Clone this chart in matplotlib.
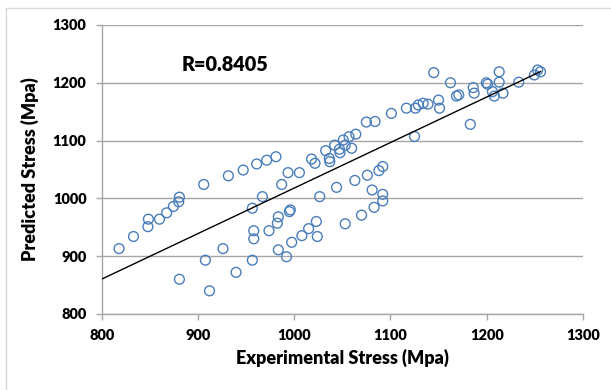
import numpy as np
import matplotlib
matplotlib.use('Agg')
import matplotlib.pyplot as plt
from matplotlib.lines import Line2D

plt.rcParams['font.family'] = ['Lato', 'DejaVu Sans']
plt.rcParams['font.weight'] = 'heavy'
plt.rcParams['axes.labelweight'] = 'heavy'

# experimental vs predicted stress (MPa)
exp_stress = [818, 833, 848, 848.5, 860, 867.5, 874.5, 880, 880.7, 880.7,
              906, 907.7, 912, 926, 931.6, 939.6, 947, 956.5, 956.5, 958,
              958, 961, 967, 971.4, 973.8, 981, 982.5, 983.5, 983.5, 987,
              992, 993.6, 995, 996, 997.4, 1005.4, 1008, 1015, 1018, 1021.6,
              1023, 1024, 1026.5, 1032.7, 1036.5, 1037, 1042, 1044, 1047, 1047.6,
              1051, 1053, 1053, 1057, 1059.7, 1063, 1064, 1070, 1075, 1076,
              1081, 1083, 1084, 1088, 1092, 1092, 1092, 1101, 1116.6, 1125,
              1126, 1129, 1134, 1139, 1145, 1150, 1151, 1162.4, 1168.6, 1171,
              1183, 1186, 1187, 1199.6, 1201, 1206, 1208, 1213, 1213, 1217,
              1233.4, 1249.6, 1253, 1256]
pred_stress = [913, 934, 951, 964, 964, 975, 986, 994, 1002, 860,
               1024, 893, 840, 913, 1039, 872, 1049, 893, 983, 944,
               930, 1059.5, 1003, 1066, 944, 1072, 957, 968, 911, 1024,
               899, 1044.5, 977, 980, 924, 1044.5, 935.5, 947.6, 1068, 1060.7,
               960, 934, 1003, 1082.5, 1069, 1063.5, 1092, 1019, 1085, 1079,
               1101, 1092, 956, 1106.7, 1086.7, 1031, 1111, 971, 1132, 1040,
               1014.5, 984.5, 1133, 1048, 1055, 1007, 995.5, 1147, 1156, 1107,
               1156, 1161.6, 1164.5, 1163, 1217.5, 1170, 1156, 1200, 1177, 1179,
               1128, 1191.6, 1182, 1200, 1197.6, 1184.6, 1177, 1219, 1201, 1182,
               1201, 1213.5, 1222, 1219]
r_text = 'R=0.8405'

x = np.array(exp_stress)
y = np.array(pred_stress)

fig = plt.figure(figsize=(6.11, 3.90), dpi=100)
ax = fig.add_axes([0.1665, 0.195, 0.7875, 0.741])

grey = '#a6a6a6'
ax.scatter(x, y, s=50, facecolors='none', edgecolors='#4a7ebb', linewidths=1.0, zorder=3)

# linear trend line
k, b = np.polyfit(x, y, 1)
xl = np.array([800, x.max()])
ax.plot(xl, k * xl + b, color='black', lw=1.0, zorder=4)

ax.set_xlim(800, 1300)
ax.set_ylim(800, 1300)
ax.set_xticks(np.arange(800, 1301, 100))
ax.set_yticks(np.arange(800, 1301, 100))
ax.grid(axis='y', color=grey, lw=1.0, zorder=0)
ax.set_axisbelow(True)
for s in ['top', 'right']:
    ax.spines[s].set_visible(False)
for s in ['left', 'bottom']:
    ax.spines[s].set_color(grey)
    ax.spines[s].set_linewidth(1.0)
ax.tick_params(axis='both', color=grey, length=4, width=1.0, labelsize=10.5)
ax.tick_params(axis='x', pad=7)
ax.tick_params(axis='y', pad=7)

ax.set_xlabel('Experimental Stress (Mpa)', fontsize=13, labelpad=5)
ax.set_ylabel('Predicted Stress (Mpa)', fontsize=13, labelpad=10)
ax.text(883, 1231, r_text, fontsize=14.3, va='center', ha='left')

# chart area border (left and top edges visible)
fig.add_artist(Line2D([6 / 611, 6 / 611], [0, 1 - 8 / 390], color='#d9d9d9', lw=1.0))
fig.add_artist(Line2D([6 / 611, 1], [1 - 8 / 390, 1 - 8 / 390], color='#d9d9d9', lw=1.0))

fig.savefig('out.png', dpi=100)
